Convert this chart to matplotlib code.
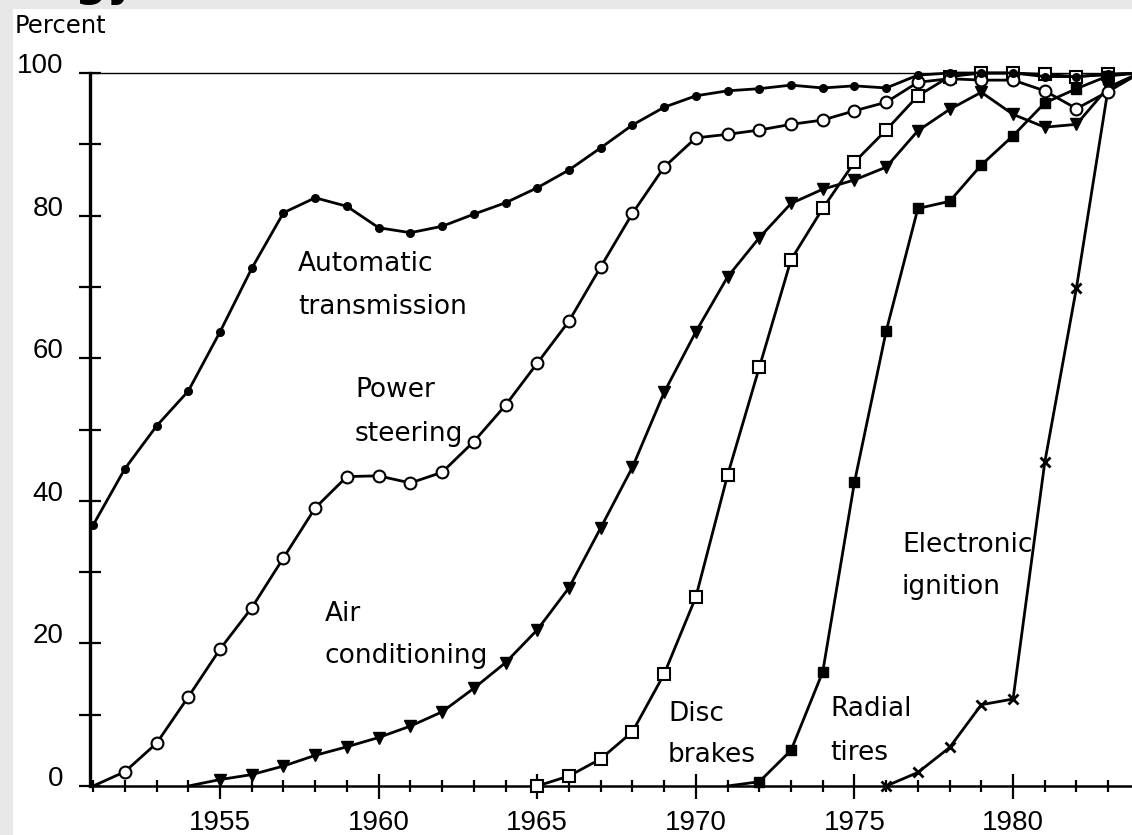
import matplotlib
matplotlib.use("Agg")
import matplotlib.pyplot as plt
from matplotlib.patches import Rectangle
import numpy as np

# ---------------- data ----------------
auto_years = list(range(1951, 1985))
auto_vals = [36.6, 44.5, 50.5, 55.4, 63.7, 72.6, 80.4, 82.5, 81.3, 78.3,
             77.6, 78.5, 80.2, 81.8, 83.9, 86.4, 89.5, 92.7, 95.2, 96.8,
             97.5, 97.8, 98.3, 97.9, 98.2, 97.9, 99.7, 100, 100, 100,
             99.5, 99.5, 99.8, 100]

power_years = list(range(1951, 1985))
power_vals = [0, 2.0, 6.0, 12.5, 19.2, 25.0, 32.0, 39.0, 43.4, 43.5,
              42.5, 44.0, 48.3, 53.4, 59.3, 65.2, 72.8, 80.3, 86.8, 90.9,
              91.4, 92.0, 92.8, 93.4, 94.7, 95.9, 98.7, 99.2, 99.0, 99.0,
              97.5, 95.0, 97.4, 100]

air_years = list(range(1954, 1985))
air_vals = [0, 0.9, 1.6, 2.8, 4.3, 5.5, 6.8,
            8.4, 10.4, 13.7, 17.3, 21.9, 27.8, 36.2, 44.7, 55.2, 63.7,
            71.4, 76.9, 81.7, 83.7, 85.0, 86.8, 91.9, 94.9, 97.3, 94.2,
            92.4, 92.8, 98.0, 100]

disc_years = list(range(1965, 1985))
disc_vals = [0, 1.4, 3.8, 7.6, 15.7, 26.5, 43.6, 58.7, 73.8, 81.0,
             87.5, 92.0, 96.8, 99.5, 100, 100, 99.8, 99.5, 99.8, 100]

radial_years = list(range(1971, 1985))
radial_vals = [0, 0.6, 5.0, 16.0, 42.6, 63.8, 81.0, 82.0, 87.1, 91.2,
               95.8, 97.8, 99.6, 100]

elec_years = list(range(1976, 1985))
elec_vals = [0, 1.9, 5.4, 11.4, 12.2, 45.4, 69.9, 97.9, 100]

x_major = [1955, 1960, 1965, 1970, 1975, 1980]
x_labels = ["1955", "1960", "1965", "1970", "1975", "1980"]
y_major = [0, 20, 40, 60, 80, 100]
y_labels = ["0", "20", "40", "60", "80", "100"]

labels = [("Automatic", "transmission"), ("Power", "steering"),
          ("Air", "conditioning"), ("Disc", "brakes"),
          ("Radial", "tires"), ("Electronic", "ignition")]

# ---------------- figure ----------------
W, H = 1132, 835
fig = plt.figure(figsize=(W / 100, H / 100), dpi=100, facecolor="#e8e8e8")
fig.patches.append(Rectangle((13 / W, 0), (W - 13) / W, (H - 9) / H,
                             transform=fig.transFigure, facecolor="white",
                             edgecolor="none", zorder=-5))

# fragment of a slide title cut off at the top edge (as in the reference)
fig.text(75 / W, 1 + 4 / H, "gy", fontsize=32, fontweight="bold",
         family="DejaVu Sans", va="baseline", ha="left", color="black")


def fx(px):
    return px / W


def fy(py):
    return 1 - py / H


ax = fig.add_axes([fx(90), fy(786), (W - 90) / W, (786 - 73) / H])
ax.set_facecolor("none")
ax.set_xlim(1950.9, 1983.75)
ax.set_ylim(0, 100)

lw = 2.0
common = dict(color="black", lw=lw, clip_on=False)
ax.plot(auto_years, auto_vals, marker="o", ms=5.5, mfc="black", mec="black",
        zorder=6, **common)
ax.plot(power_years, power_vals, marker="o", ms=8.5, mfc="white", mec="black",
        mew=1.5, markevery=slice(1, None), zorder=5, **common)
ax.plot(air_years, air_vals, marker="v", ms=8.5, mfc="black", mec="black",
        markevery=slice(1, None), zorder=4, **common)
ax.plot(disc_years, disc_vals, marker="s", ms=8, mfc="white", mec="black",
        mew=1.5, zorder=3, **common)
ax.plot(radial_years, radial_vals, marker="s", ms=7, mfc="black", mec="black",
        markevery=slice(1, None), zorder=3, **common)
ax.plot(elec_years, elec_vals, marker="x", ms=7.5, mec="black", mew=2.0,
        zorder=3, **common)

# spines
ax.spines["right"].set_visible(False)
ax.spines["top"].set_linewidth(1.0)
ax.spines["left"].set_linewidth(2.4)
ax.spines["bottom"].set_linewidth(1.8)

# ticks
tick_font = dict(family="Liberation Sans", size=20)
ax.set_yticks(y_major)
ax.set_yticklabels(y_labels, fontdict=tick_font)
ax.set_yticks([10, 30, 50, 70, 90], minor=True)
ax.tick_params(axis="y", which="both", direction="inout", length=16,
               width=1.6, pad=11)
for t in ax.get_yticklabels():
    t.set_verticalalignment("baseline")

ax.set_xticks(x_major)
ax.set_xticklabels(x_labels, fontdict=tick_font)
ax.set_xticks([y for y in range(1951, 1984) if y not in x_major], minor=True)
ax.tick_params(axis="x", which="major", direction="inout", length=18,
               width=1.6, pad=8)
ax.tick_params(axis="x", which="minor", direction="inout", length=9,
               width=1.6)

# "Percent" axis title
fig.text(fx(15), fy(33), "Percent", fontsize=17.5, family="DejaVu Sans",
         va="baseline", ha="left")

# series labels (pixel positions of baselines)
label_pos = [((298, 271), (298, 314)), ((355, 397), (355, 441)),
             ((325, 621), (325, 663)), ((668, 721), (668, 762)),
             ((830, 716), (830, 760)), ((902, 552), (902, 594))]
for (l1, l2), ((x1, y1), (x2, y2)) in zip(labels, label_pos):
    fig.text(fx(x1), fy(y1), l1, fontsize=19, family="DejaVu Sans",
             va="baseline", ha="left")
    fig.text(fx(x2), fy(y2), l2, fontsize=19, family="DejaVu Sans",
             va="baseline", ha="left")

fig.savefig("out.png", dpi=100, facecolor=fig.get_facecolor())
